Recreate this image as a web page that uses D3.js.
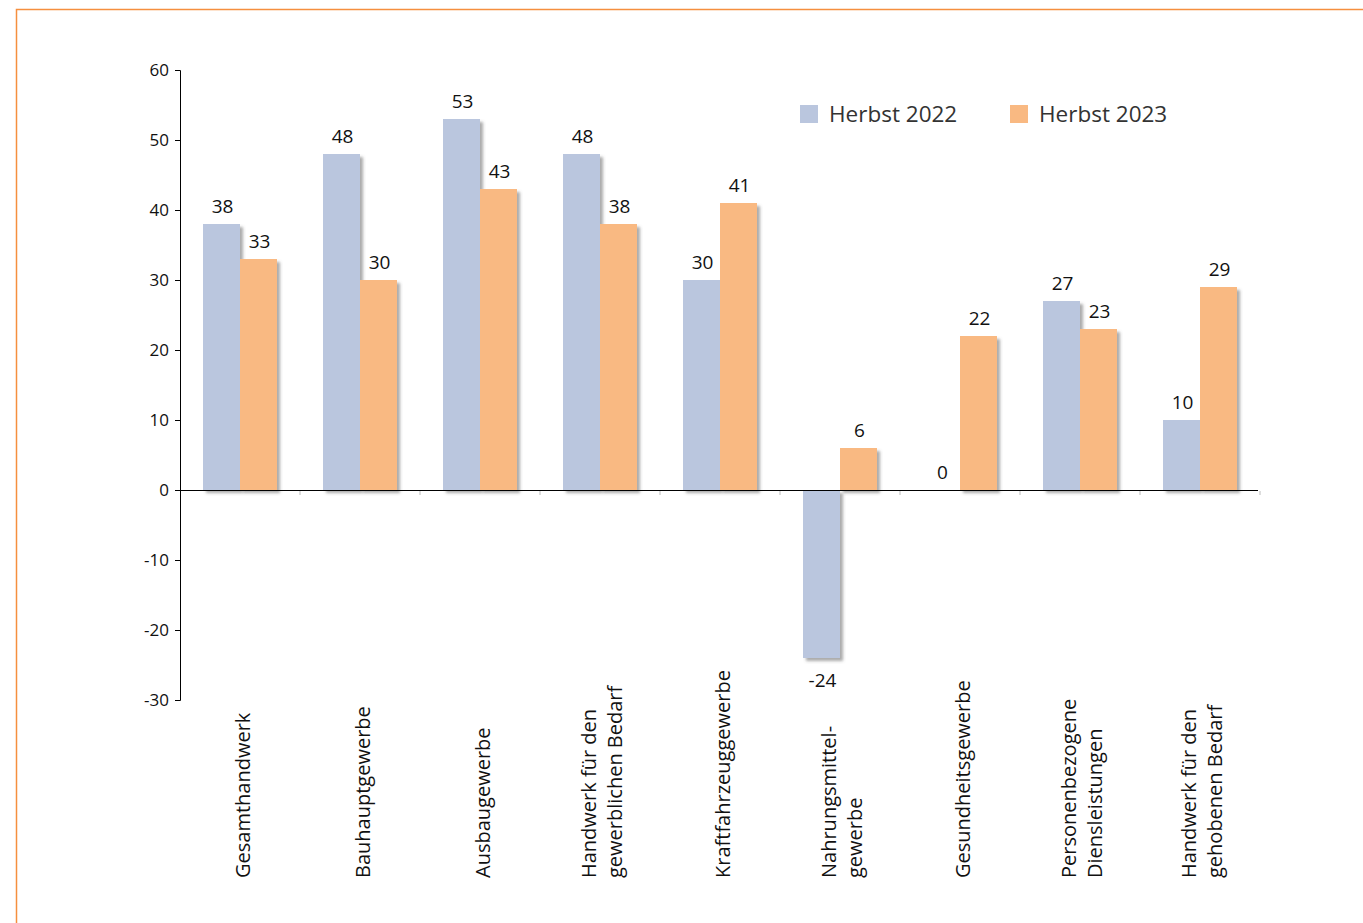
<!DOCTYPE html>
<html><head><meta charset="utf-8">
<script src="https://cdn.jsdelivr.net/npm/d3@7/dist/d3.min.js"></script>
<style>body{margin:0;background:#fff}svg{display:block}</style>
</head><body>
<svg id="c" width="1363" height="923"></svg>
<script>
const categories = [
  ["Gesamthandwerk"],
  ["Bauhauptgewerbe"],
  ["Ausbaugewerbe"],
  ["Handwerk für den","gewerblichen Bedarf"],
  ["Kraftfahrzeuggewerbe"],
  ["Nahrungsmittel-","gewerbe"],
  ["Gesundheitsgewerbe"],
  ["Personenbezogene","Diensleistungen"],
  ["Handwerk für den","gehobenen Bedarf"]
];
const seriesNames = ["Herbst 2022","Herbst 2023"];
const herbst2022 = [38,48,53,48,30,-24,0,27,10];
const herbst2023 = [33,30,43,38,41,6,22,23,29];
const yTicks = [-30,-20,-10,0,10,20,30,40,50,60];
const colors = ["#BAC6DE","#F9B982"];

const svg = d3.select("#c");
const font = "'Open Sans', sans-serif";

// frame
svg.append("path").attr("d","M16.5,923 V9.5 H1363").attr("fill","none")
  .attr("stroke","#F58F3F").attr("stroke-width",1.5);

const defs = svg.append("defs");
const f = defs.append("filter").attr("id","sh").attr("x","-20%").attr("y","-20%").attr("width","150%").attr("height","150%");
f.append("feDropShadow").attr("dx",3).attr("dy",3).attr("stdDeviation",1.8)
  .attr("flood-color","#555").attr("flood-opacity",0.5);

const idx = d3.range(categories.length);
const x0 = d3.scaleBand().domain(idx).range([180,1260]).paddingInner(0.3833).paddingOuter(0.19165);
const x1 = d3.scaleBand().domain([0,1]).range([0,x0.bandwidth()]);
const y = d3.scaleLinear().domain([-30,60]).range([700,70]);

const data = [herbst2022, herbst2023];

// bars
const g = svg.append("g");
data.forEach((vals,s)=>{
  g.selectAll(null).data(idx).join("rect")
    .attr("x",i=>x0(i)+x1(s))
    .attr("width",x1.bandwidth())
    .attr("y",i=>y(Math.max(0,vals[i])))
    .attr("height",i=>Math.abs(y(vals[i])-y(0)))
    .attr("fill",colors[s])
    .attr("filter",i=>vals[i]===0?null:"url(#sh)");
});

// value labels
data.forEach((vals,s)=>{
  svg.selectAll(null).data(idx).join("text")
    .attr("x",i=>x0(i)+x1(s)+x1.bandwidth()/2+1)
    .attr("y",i=>vals[i]<0 ? y(vals[i])+29 : y(vals[i])-11)
    .attr("text-anchor","middle")
    .attr("font-family",font).attr("font-size",19).attr("fill","#111")
    .text(i=>vals[i]);
});

// y axis
const ya = svg.append("g").attr("transform","translate(180,0)")
  .call(d3.axisLeft(y).tickValues(yTicks).tickSize(5).tickPadding(6).tickFormat(d=>String(d)));
ya.select(".domain").attr("stroke","#000").attr("d","M-5,70.5H0.5V700.5H-5");
ya.selectAll(".tick line").attr("stroke","#000");
ya.selectAll("text").attr("font-family",font).attr("font-size",17).attr("fill","#111");

// x axis line
svg.append("line").attr("x1",180).attr("x2",1258).attr("y1",y(0)+0.5).attr("y2",y(0)+0.5)
  .attr("stroke","#000").attr("stroke-width",1);
svg.selectAll(null).data(d3.range(1,10)).join("line")
  .attr("x1",i=>180+i*x0.step()).attr("x2",i=>180+i*x0.step())
  .attr("y1",y(0)+1).attr("y2",y(0)+5).attr("stroke","#bbb");

// category labels
idx.forEach(i=>{
  const cx = x0(i)+x0.bandwidth()/2;
  const lines = categories[i];
  const n = lines.length;
  const t = svg.append("text")
    .attr("transform",`translate(${cx},878) rotate(-90)`)
    .attr("text-anchor","start").attr("font-family",font).attr("font-size",20).attr("fill","#111");
  lines.forEach((l,k)=>{
    t.append("tspan").attr("x",0).attr("y",10-(n-1)*14+k*25.5).text(l);
  });
});

// legend
const leg = svg.append("g");
const legX = [800,1010];
seriesNames.forEach((nm,s)=>{
  leg.append("rect").attr("x",legX[s]).attr("y",105).attr("width",18).attr("height",18).attr("fill",colors[s]);
  leg.append("text").attr("x",legX[s]+29).attr("y",122).attr("font-family",font)
    .attr("font-size",22.5).attr("fill","#333").text(nm);
});
</script>
</body></html>
